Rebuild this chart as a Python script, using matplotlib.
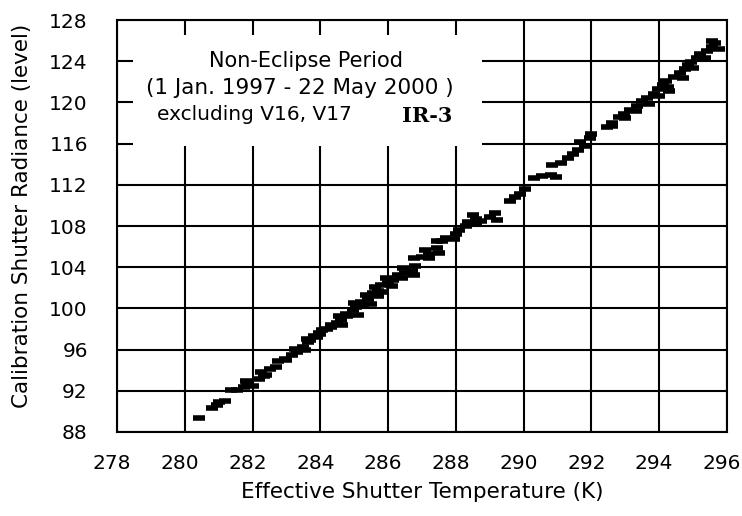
import matplotlib.pyplot as plt
from matplotlib.patches import Rectangle
from matplotlib.transforms import ScaledTranslation

# shutter temperature (K) and radiance level
temp_k = [280.42, 280.8, 280.95, 281.0, 281.2, 281.35, 281.55, 281.75, 281.85, 281.8,
          282.2, 282.35, 282.25, 282.5, 282.7, 282.75, 282.95, 283.15, 283.3, 283.25,
          283.5, 283.65, 283.6, 283.8, 283.95, 284.05, 284.2, 284.3, 284.5, 284.6,
          284.55, 284.75, 284.95, 285.05, 285.0, 285.2, 285.4, 285.35, 285.55, 285.7,
          285.6, 285.8, 286.0, 286.15, 285.95, 286.3, 286.5, 286.7, 286.45, 286.8,
          286.75, 287.0, 287.2, 287.1, 287.45, 287.45, 287.7, 287.95, 288.0, 288.1,
          288.3, 288.35, 288.6, 288.75, 289.0, 289.15, 288.5, 289.6, 289.75, 289.9,
          290.05, 290.3, 290.55, 290.8, 290.95, 290.85, 291.1, 291.3, 291.45, 291.6,
          291.8, 291.65, 291.95, 292.0, 292.45, 292.6, 292.8, 292.95, 293.15, 293.35,
          293.5, 293.65, 293.85, 293.95, 294.1, 294.25, 294.2, 294.45, 294.6, 294.75,
          294.85, 294.95, 295.1, 295.2, 295.4, 295.55, 295.65, 295.55,
          282.0, 282.4, 283.0, 283.55, 283.7, 283.9, 284.0, 284.3, 284.65, 284.8,
          285.1, 285.25, 285.5, 285.7, 285.85, 286.1, 286.4, 286.75, 287.2, 287.5,
          287.6, 288.4, 288.6, 289.2, 292.6, 293.0, 293.3, 293.7, 294.0, 294.3,
          294.7, 295.0, 295.35, 295.75]
radiance = [89.35, 90.3, 90.6, 90.9, 91.0, 92.1, 92.1, 92.4, 92.7, 92.95,
            93.1, 93.4, 93.8, 94.1, 94.3, 94.9, 95.1, 95.5, 95.8, 96.1,
            96.3, 96.7, 97.0, 97.3, 97.6, 97.9, 98.0, 98.4, 98.6, 98.9,
            99.3, 99.5, 99.8, 100.1, 100.5, 100.6, 100.9, 101.3, 101.5, 101.7,
            102.1, 102.3, 102.5, 102.8, 103.0, 103.2, 103.4, 103.6, 103.9, 104.1,
            104.9, 105.0, 105.3, 105.7, 105.9, 106.5, 106.8, 106.7, 107.2, 107.6,
            108.0, 108.4, 108.7, 108.5, 108.9, 109.3, 109.1, 110.4, 110.8, 111.1,
            111.6, 112.7, 112.9, 113.0, 112.8, 113.9, 114.1, 114.6, 115.0, 115.4,
            115.8, 116.2, 116.5, 116.9, 117.6, 118.0, 118.6, 118.9, 119.3, 119.7,
            120.1, 120.4, 120.8, 121.3, 121.7, 121.5, 122.1, 122.5, 122.9, 123.2,
            123.6, 123.9, 124.3, 124.7, 125.0, 125.4, 125.8, 126.0,
            92.5, 93.5, 95.0, 96.0, 96.9, 97.2, 97.5, 98.2, 98.4, 99.3,
            99.4, 100.3, 100.4, 101.2, 101.6, 102.2, 103.0, 103.2, 104.9, 105.4,
            106.5, 108.2, 108.2, 108.6, 117.7, 118.5, 119.2, 119.8, 120.6, 121.1,
            122.4, 123.3, 124.3, 125.2]

x_ticks = [278, 280, 282, 284, 286, 288, 290, 292, 294, 296]
y_ticks = [88, 92, 96, 100, 104, 108, 112, 116, 120, 124, 128]

fig = plt.figure(figsize=(7.42, 5.16), dpi=100)
ax = fig.add_axes([0.1577, 0.1628, 0.8221, 0.7984])

ax.plot(temp_k, radiance, linestyle='none', marker='_', markersize=9,
        markeredgewidth=4, color='black', zorder=3)

ax.set_xlim(278, 296)
ax.set_ylim(88, 128)
ax.set_xticks(x_ticks)
ax.set_yticks(y_ticks)
ax.tick_params(axis='y', length=0, labelsize=14.5, pad=21)
ax.tick_params(axis='x', length=0, labelsize=14.5, pad=16)
ax.grid(True, color='black', linewidth=1.5)
for s in ax.spines.values():
    s.set_linewidth(1.5)

# x tick labels sit a few pixels left of their grid lines in the original
shift = ScaledTranslation(-5 / 100, 0, fig.dpi_scale_trans)
for lab in ax.get_xticklabels():
    lab.set_transform(lab.get_transform() + shift)

# white box behind the annotation
ax.add_patch(Rectangle((0.026, 0.694), 0.572, 0.27, transform=ax.transAxes,
                       facecolor='white', edgecolor='none', zorder=2.5))
ax.text(0.31, 0.90, 'Non-Eclipse Period', transform=ax.transAxes,
        ha='center', va='center', fontsize=15, zorder=4)
ax.text(0.30, 0.835, '(1 Jan. 1997 - 22 May 2000 )', transform=ax.transAxes,
        ha='center', va='center', fontsize=15.5, zorder=4)
ax.text(0.0656, 0.77, 'excluding V16, V17', transform=ax.transAxes,
        ha='left', va='center', fontsize=14.5, zorder=4)
ax.text(0.467, 0.767, 'IR-3', transform=ax.transAxes, ha='left', va='center',
        fontsize=15, fontweight='bold', family='DejaVu Serif', zorder=4)

fig.text(0.5687, 1 - 492 / 516, 'Effective Shutter Temperature (K)',
         ha='center', va='center', fontsize=15.5)
fig.text(22 / 742, 1 - 408 / 516, 'Calibration Shutter Radiance (level)',
         rotation=90, ha='center', va='bottom', fontsize=15.5)

fig.savefig('out.png', dpi=100)
